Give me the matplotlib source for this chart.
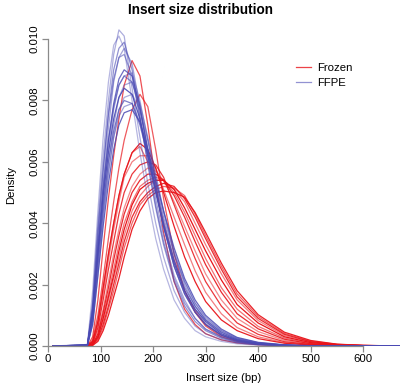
import matplotlib
matplotlib.use('Agg')
import matplotlib.pyplot as plt
import numpy as np

plt.rcParams['font.family'] = ['Liberation Sans', 'DejaVu Sans']

# insert size grid (bp) shared by all density curves
insert_size = [10, 75, 85, 95, 105, 115, 125, 135, 145, 160, 175, 190, 205,
               220, 240, 260, 280, 300, 330, 360, 400, 450, 500, 550, 600, 670]

# densities in units of 1e-4
ffpe = [
    [0, 0.3, 14, 40, 62, 80, 95, 103, 101, 84, 68, 53, 40, 29, 18, 11, 6.5, 4, 2, 1, 0.4, 0.1, 0, 0, 0, 0],
    [0, 0.5, 18, 44, 68, 86, 98, 101, 97, 80, 63, 48, 35, 25, 15, 9, 5, 3, 1.5, 0.7, 0.3, 0.1, 0, 0, 0, 0],
    [0, 0.3, 12, 36, 57, 76, 90, 97, 99, 90, 75, 59, 45, 33, 21, 13, 8, 5, 2.5, 1.2, 0.5, 0.1, 0, 0, 0, 0],
    [0, 0.3, 11, 33, 53, 71, 86, 94, 97, 92, 78, 62, 48, 36, 23, 15, 9, 5.5, 2.8, 1.3, 0.5, 0.1, 0, 0, 0, 0],
    [0, 0.3, 14, 38, 58, 75, 87, 94, 95, 88, 74, 60, 46, 34, 22, 14, 9, 5.5, 3, 1.5, 0.6, 0.2, 0, 0, 0, 0],
    [0, 0.2, 10, 30, 50, 67, 79, 87, 90, 88, 78, 64, 51, 39, 26, 17, 11, 7, 3.5, 1.7, 0.7, 0.2, 0, 0, 0, 0],
    [0, 0.2, 9, 28, 47, 64, 77, 85, 88, 89, 80, 67, 53, 41, 28, 18, 12, 7.5, 3.8, 1.9, 0.8, 0.2, 0, 0, 0, 0],
    [0, 0.3, 12, 33, 52, 67, 78, 85, 88, 86, 77, 64, 51, 39, 26, 17, 11, 7, 3.5, 1.8, 0.7, 0.2, 0, 0, 0, 0],
    [0, 0.2, 8, 26, 44, 60, 72, 81, 85, 86, 79, 68, 56, 44, 30, 20, 13, 8.5, 4.5, 2.3, 1, 0.3, 0, 0, 0, 0],
    [0, 0.3, 11, 31, 49, 63, 74, 81, 84, 82, 74, 62, 50, 39, 27, 18, 12, 8, 4, 2, 0.8, 0.2, 0, 0, 0, 0],
    [0, 0.2, 7, 23, 41, 56, 68, 77, 81, 82, 77, 67, 55, 44, 31, 21, 14, 9, 5, 2.5, 1, 0.3, 0, 0, 0, 0],
    [0, 0.3, 10, 29, 46, 60, 70, 77, 80, 79, 72, 62, 51, 40, 28, 19, 13, 8.5, 4.5, 2.2, 0.9, 0.3, 0, 0, 0, 0],
    [0, 0.2, 8, 26, 43, 57, 68, 75, 78, 79, 73, 63, 53, 42, 30, 21, 14, 9.5, 5, 2.6, 1.1, 0.3, 0, 0, 0, 0],
    [0, 0.2, 7, 23, 39, 53, 64, 72, 76, 77, 73, 64, 54, 44, 32, 22, 15, 10, 5.5, 2.8, 1.2, 0.4, 0.1, 0, 0, 0],
]

frozen = [
    [0, 0, 3, 15, 32, 48, 62, 74, 85, 93, 88, 72, 53, 37, 21, 12, 7, 4, 2, 1, 0.4, 0.1, 0, 0, 0, 0],
    [0, 0, 2, 10, 22, 35, 47, 58, 67, 77, 82, 78, 64, 48, 30, 18, 11, 6.5, 3, 1.5, 0.6, 0.2, 0, 0, 0, 0],
    [0, 0, 1.5, 8, 19, 30, 40, 49, 56, 63, 65, 60, 51, 40, 28, 18, 11.5, 7, 3.5, 1.7, 0.6, 0.2, 0, 0, 0, 0],
    [0, 0, 1.5, 8, 19, 30, 40, 49, 56, 63, 66, 64, 58, 50, 39, 29, 21, 14.5, 8.5, 5, 2.4, 0.9, 0.3, 0.1, 0, 0],
    [0, 0, 1, 7, 17, 28, 38, 47, 55, 60, 62, 62, 58, 51, 42, 33, 24.5, 17.5, 10.5, 6, 3, 1.1, 0.4, 0.1, 0, 0],
    [0, 0, 1, 6, 15, 25, 34, 43, 50, 56, 59, 60, 59, 55, 46, 37, 28.5, 21, 13, 7.5, 3.8, 1.4, 0.5, 0.15, 0.05, 0],
    [0, 0, 1, 5, 12, 21, 30, 38, 45, 52, 56, 58, 57, 54, 47, 39, 31, 23.5, 15, 9, 4.7, 1.8, 0.6, 0.2, 0.05, 0],
    [0, 0, 0.5, 4, 11, 19, 28, 36, 43, 50, 54, 56, 56, 54, 49, 42, 34, 26.5, 17.5, 10.5, 5.6, 2.2, 0.75, 0.25, 0.08, 0],
    [0, 0, 0.5, 3.5, 10, 17, 25, 33, 40, 47, 52, 54, 55, 54, 50, 43.5, 36, 28.5, 19, 12, 6.4, 2.6, 0.9, 0.3, 0.1, 0],
    [0, 0, 0.5, 3, 9, 16, 23, 31, 38, 46, 51, 53, 54, 54, 51, 45, 38, 31, 21.5, 13.5, 7.5, 3, 1.1, 0.4, 0.12, 0],
    [0, 0, 0.5, 3, 8, 15, 22, 29, 36, 44, 49, 52, 54, 54, 51, 47, 40, 33, 23.5, 15, 8.3, 3.4, 1.3, 0.45, 0.15, 0],
    [0, 0, 0.3, 2.5, 7, 13, 20, 27, 34, 42, 47, 50, 52, 53, 52, 48, 42, 35, 25, 16, 9, 3.8, 1.4, 0.5, 0.17, 0],
    [0, 0, 0.3, 2, 6, 12, 18, 25, 32, 40, 46, 49, 51, 52, 51.5, 49, 43, 36, 26, 17, 9.6, 4.1, 1.6, 0.55, 0.2, 0],
    [0, 0, 0.2, 1.5, 5, 10, 16, 22, 29, 38, 44, 48, 50, 50.5, 50, 48.5, 43.5, 37, 27, 18, 10.2, 4.5, 1.8, 0.6, 0.22, 0],
]

frozen_alpha = [0.75, 0.7, 0.6, 0.95, 0.55, 0.85, 0.5, 0.9, 0.6, 1.0, 0.55, 0.9, 0.65, 0.95]
ffpe_alpha = [0.45, 0.4, 0.6, 0.5, 0.55, 0.8, 0.45, 0.65, 0.5, 0.9, 0.45, 0.7, 0.5, 0.85]

RED = '#e8141a'
BLUE = '#4a4ab4'

fig = plt.figure(figsize=(4.0, 3.85), dpi=100)
ax = fig.add_axes([0.12, 0.1013, 0.88, 0.837])

x = np.array(insert_size)
for vals, a in zip(frozen, frozen_alpha):
    ax.plot(x, np.array(vals) * 1e-4, color=RED, alpha=a, lw=0.9)
for vals, a in zip(ffpe, ffpe_alpha):
    ax.plot(x, np.array(vals) * 1e-4, color=BLUE, alpha=a, lw=0.9)

ax.set_xlim(0, 670)
ax.set_ylim(0, 0.0105)

# R-like axes
for side in ['top', 'right']:
    ax.spines[side].set_visible(False)
for side in ['left', 'bottom']:
    ax.spines[side].set_color('#8a8a8a')
    ax.spines[side].set_linewidth(0.9)
ax.spines['left'].set_bounds(0, 0.010)
ax.spines['bottom'].set_bounds(0, 600)
ax.set_xticks(range(0, 601, 100))
ax.set_yticks([0, 0.002, 0.004, 0.006, 0.008, 0.010])
ax.set_yticklabels(['0.000', '0.002', '0.004', '0.006', '0.008', '0.010'],
                   rotation=90, va='center')
ax.tick_params(colors='#8a8a8a', labelcolor='black', labelsize=8.2,
               length=4, width=0.9, pad=2)

ax.set_xlabel('Insert size (bp)', fontsize=8.2, labelpad=6)
ax.set_ylabel('Density', fontsize=8.2, labelpad=10)
fig.text(0.5, 1 - 10 / 385, 'Insert size distribution', fontsize=9.8,
         fontweight='bold', ha='center', va='center')

handles = [plt.Line2D([], [], color=RED, lw=0.9, alpha=0.8),
           plt.Line2D([], [], color=BLUE, lw=0.9, alpha=0.6)]
ax.legend(handles, ['Frozen', 'FFPE'], loc='upper left',
          bbox_to_anchor=(0.675, 0.91), frameon=False, fontsize=8.2,
          handlelength=1.3, handletextpad=0.6, labelspacing=0.45)

fig.savefig('out.png', dpi=100)
